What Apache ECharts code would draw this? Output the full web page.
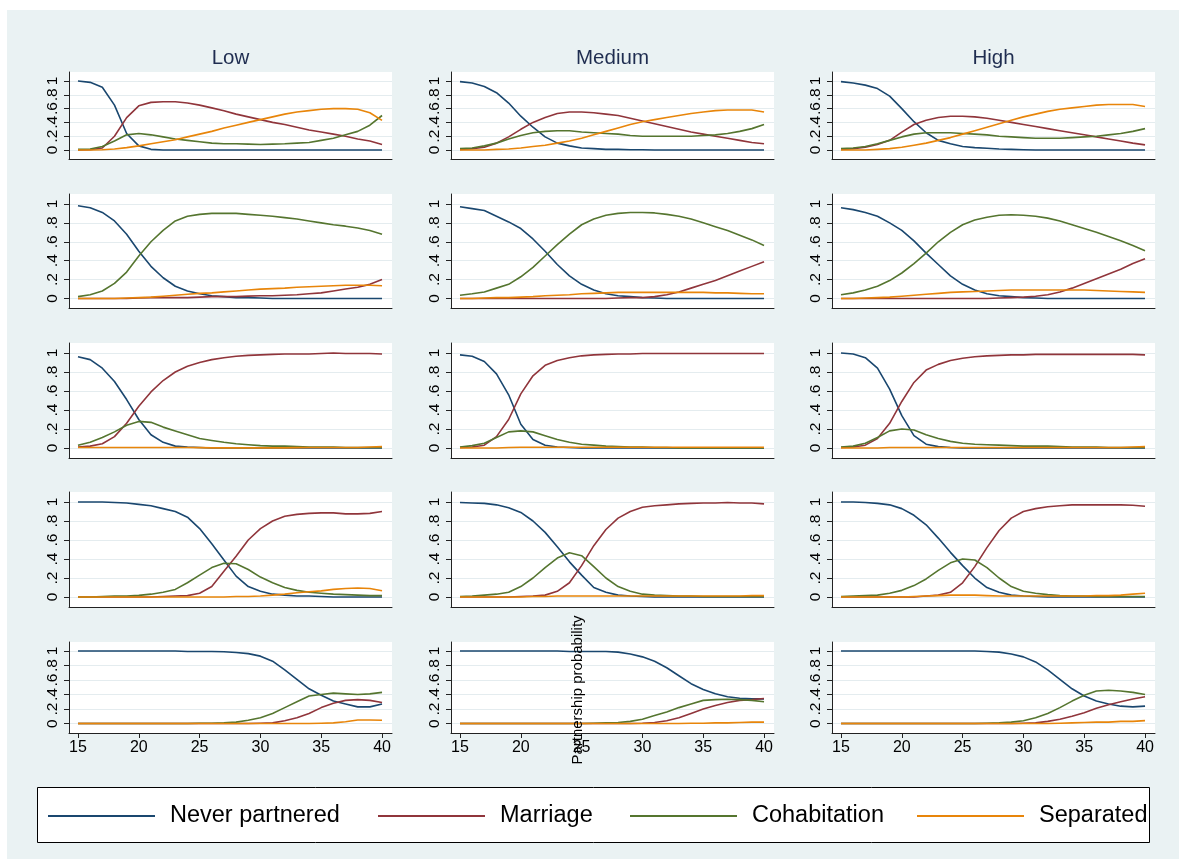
<!DOCTYPE html>
<html><head><meta charset="utf-8">
<script src="https://cdn.jsdelivr.net/npm/echarts@6.0.0/dist/echarts.min.js"></script>
<style>html,body{margin:0;padding:0;background:#fff}#chart{width:1186px;height:866px}</style>
</head><body><div id="chart"></div>
<script>
// ---------------- DATA ----------------
const ages = [15,16,17,18,19,20,21,22,23,24,25,26,27,28,29,30,31,32,33,34,35,36,37,38,39,40];
const colTitles = ['Low', 'Medium', 'High'];
const seriesNames = ['Never partnered', 'Marriage', 'Cohabitation', 'Separated'];
const yTickValues = [0, 0.2, 0.4, 0.6, 0.8, 1];
const xTickValues = [15, 20, 25, 30, 35, 40];
const yAxisTitle = 'Partnership probability';

// Row 1
const r1Low_never = [1.0,0.98,0.91,0.65,0.24,0.06,0.01,0,0,0,0,0,0,0,0,0,0,0,0,0,0,0,0,0,0,0];
const r1Low_marr  = [0,0.005,0.03,0.20,0.47,0.64,0.69,0.70,0.70,0.68,0.65,0.61,0.57,0.52,0.48,0.44,0.40,0.37,0.33,0.29,0.26,0.23,0.20,0.16,0.13,0.08];
const r1Low_cohab = [0.01,0.015,0.05,0.13,0.22,0.24,0.22,0.19,0.16,0.14,0.12,0.10,0.09,0.09,0.085,0.08,0.085,0.09,0.10,0.11,0.14,0.17,0.22,0.27,0.36,0.50];
const r1Low_sep   = [0,0,0.005,0.015,0.035,0.06,0.09,0.12,0.15,0.19,0.23,0.27,0.32,0.36,0.40,0.44,0.48,0.52,0.55,0.57,0.59,0.60,0.60,0.59,0.54,0.43];

const r1Med_never = [0.99,0.97,0.92,0.83,0.68,0.49,0.33,0.19,0.10,0.06,0.03,0.02,0.01,0.01,0.005,0.005,0,0,0,0,0,0,0,0,0,0];
const r1Med_marr  = [0.01,0.02,0.04,0.10,0.19,0.30,0.40,0.47,0.53,0.55,0.55,0.54,0.52,0.50,0.46,0.42,0.38,0.34,0.30,0.26,0.23,0.20,0.17,0.14,0.11,0.09];
const r1Med_cohab = [0.02,0.03,0.06,0.10,0.16,0.21,0.25,0.27,0.28,0.28,0.26,0.25,0.24,0.23,0.21,0.20,0.20,0.20,0.20,0.20,0.21,0.22,0.24,0.27,0.31,0.37];
const r1Med_sep   = [0,0,0,0.01,0.015,0.03,0.05,0.07,0.10,0.13,0.17,0.22,0.27,0.32,0.37,0.41,0.44,0.47,0.50,0.53,0.55,0.57,0.58,0.58,0.58,0.55];

const r1High_never = [0.99,0.97,0.94,0.89,0.78,0.60,0.41,0.25,0.14,0.09,0.05,0.035,0.025,0.015,0.01,0.005,0,0,0,0,0,0,0,0,0,0];
const r1High_marr  = [0.01,0.02,0.04,0.08,0.14,0.26,0.37,0.43,0.47,0.49,0.49,0.48,0.46,0.43,0.40,0.37,0.34,0.31,0.28,0.25,0.22,0.19,0.16,0.13,0.10,0.075];
const r1High_cohab = [0.02,0.03,0.05,0.09,0.14,0.19,0.23,0.25,0.25,0.25,0.24,0.23,0.22,0.20,0.19,0.18,0.17,0.17,0.17,0.18,0.19,0.20,0.22,0.24,0.27,0.31];
const r1High_sep   = [0,0,0,0.01,0.02,0.04,0.07,0.10,0.14,0.18,0.23,0.28,0.33,0.38,0.43,0.48,0.52,0.56,0.59,0.61,0.63,0.65,0.66,0.66,0.66,0.63];

// Row 2
const r2Low_never = [0.98,0.96,0.91,0.82,0.68,0.50,0.34,0.22,0.13,0.08,0.05,0.03,0.02,0.01,0.01,0.005,0,0,0,0,0,0,0,0,0,0];
const r2Low_marr  = [0,0,0,0,0,0.005,0.01,0.01,0.01,0.01,0.015,0.02,0.02,0.02,0.025,0.03,0.03,0.035,0.04,0.05,0.06,0.08,0.10,0.12,0.15,0.20];
const r2Low_cohab = [0.02,0.04,0.08,0.16,0.28,0.45,0.60,0.72,0.82,0.87,0.89,0.90,0.90,0.90,0.89,0.88,0.87,0.855,0.84,0.82,0.80,0.78,0.765,0.745,0.72,0.68];
const r2Low_sep   = [0,0,0,0,0.005,0.01,0.015,0.025,0.035,0.045,0.055,0.06,0.07,0.08,0.09,0.10,0.105,0.11,0.12,0.125,0.13,0.135,0.14,0.14,0.14,0.135];

const r2Med_never = [0.97,0.95,0.93,0.87,0.81,0.74,0.63,0.50,0.36,0.24,0.15,0.09,0.05,0.03,0.02,0.01,0.005,0,0,0,0,0,0,0,0,0];
const r2Med_marr  = [0,0,0,0,0,0,0,0,0,0,0,0,0,0.005,0.01,0.01,0.02,0.04,0.07,0.11,0.15,0.19,0.24,0.29,0.34,0.39];
const r2Med_cohab = [0.035,0.05,0.07,0.11,0.15,0.23,0.33,0.45,0.57,0.68,0.78,0.84,0.88,0.90,0.91,0.91,0.905,0.89,0.87,0.84,0.80,0.76,0.72,0.67,0.62,0.56];
const r2Med_sep   = [0,0,0.005,0.01,0.01,0.015,0.02,0.03,0.035,0.04,0.05,0.055,0.06,0.065,0.065,0.065,0.065,0.065,0.065,0.065,0.065,0.06,0.06,0.055,0.05,0.05];

const r2High_never = [0.96,0.94,0.91,0.87,0.80,0.72,0.61,0.48,0.36,0.24,0.15,0.09,0.05,0.03,0.02,0.01,0.005,0,0,0,0,0,0,0,0,0];
const r2High_marr  = [0,0,0,0,0,0,0,0,0,0,0,0,0,0.005,0.01,0.015,0.025,0.04,0.07,0.11,0.16,0.21,0.26,0.31,0.37,0.42];
const r2High_cohab = [0.04,0.06,0.09,0.13,0.19,0.27,0.37,0.48,0.60,0.70,0.78,0.83,0.86,0.88,0.885,0.88,0.87,0.85,0.82,0.78,0.74,0.70,0.655,0.61,0.56,0.505];
const r2High_sep   = [0,0,0.005,0.01,0.015,0.025,0.035,0.045,0.055,0.065,0.07,0.075,0.08,0.085,0.09,0.09,0.09,0.09,0.09,0.09,0.09,0.085,0.08,0.075,0.07,0.065];

// Row 3
const r3Low_never = [0.96,0.93,0.84,0.70,0.51,0.30,0.14,0.06,0.02,0.01,0.005,0,0,0,0,0,0,0,0,0,0,0,0,0,0,0];
const r3Low_marr  = [0.01,0.02,0.045,0.12,0.26,0.44,0.59,0.71,0.80,0.86,0.90,0.93,0.95,0.965,0.975,0.98,0.985,0.99,0.99,0.99,0.995,1.0,0.995,0.995,0.995,0.99];
const r3Low_cohab = [0.03,0.06,0.11,0.17,0.24,0.28,0.27,0.22,0.18,0.14,0.10,0.08,0.06,0.045,0.035,0.025,0.02,0.02,0.015,0.01,0.01,0.01,0.005,0.005,0.005,0.005];
const r3Low_sep   = [0.005,0.005,0.005,0.005,0.005,0.005,0.005,0.005,0.005,0.005,0.004,0.002,0.002,0.002,0.002,0.002,0.002,0.002,0.004,0.005,0.005,0.005,0.005,0.005,0.01,0.015];

const r3Med_never = [0.98,0.965,0.91,0.78,0.56,0.25,0.09,0.03,0.01,0.005,0,0,0,0,0,0,0,0,0,0,0,0,0,0,0,0];
const r3Med_marr  = [0.005,0.01,0.03,0.12,0.30,0.57,0.76,0.87,0.92,0.95,0.97,0.98,0.985,0.99,0.99,0.995,0.995,0.995,0.995,0.995,0.995,0.995,0.995,0.995,0.995,0.995];
const r3Med_cohab = [0.01,0.025,0.05,0.11,0.17,0.18,0.17,0.13,0.09,0.06,0.04,0.03,0.02,0.015,0.01,0.01,0.005,0.005,0,0,0,0,0,0,0,0];
const r3Med_sep   = [0,0,0,0,0.005,0.008,0.008,0.008,0.008,0.008,0.008,0.008,0.008,0.008,0.008,0.008,0.008,0.008,0.008,0.008,0.008,0.008,0.008,0.008,0.008,0.008];

const r3High_never = [1.0,0.99,0.95,0.84,0.62,0.34,0.13,0.04,0.015,0.005,0,0,0,0,0,0,0,0,0,0,0,0,0,0,0,0];
const r3High_marr  = [0.005,0.01,0.03,0.10,0.26,0.49,0.69,0.82,0.88,0.92,0.945,0.96,0.97,0.975,0.98,0.98,0.985,0.985,0.985,0.985,0.985,0.985,0.985,0.985,0.985,0.98];
const r3High_cohab = [0.01,0.02,0.05,0.11,0.18,0.20,0.19,0.14,0.10,0.07,0.05,0.04,0.035,0.03,0.025,0.02,0.02,0.02,0.015,0.01,0.01,0.01,0.005,0.005,0.005,0.005];
const r3High_sep   = [0,0,0,0,0.005,0.005,0.005,0.005,0.005,0.005,0.005,0.005,0.005,0.005,0.005,0.005,0.005,0.005,0.005,0.005,0.005,0.005,0.005,0.005,0.01,0.015];

// Row 4
const r4Low_never = [1.0,1.0,1.0,0.995,0.99,0.975,0.96,0.93,0.90,0.84,0.72,0.56,0.39,0.22,0.11,0.06,0.03,0.02,0.01,0.01,0.005,0,0,0,0,0];
const r4Low_marr  = [0,0,0,0,0,0,0,0.005,0.01,0.015,0.04,0.11,0.27,0.43,0.60,0.72,0.80,0.85,0.87,0.88,0.885,0.885,0.875,0.875,0.88,0.90];
const r4Low_cohab = [0,0,0.005,0.01,0.01,0.017,0.03,0.05,0.08,0.15,0.23,0.31,0.355,0.35,0.29,0.21,0.15,0.10,0.07,0.05,0.04,0.03,0.025,0.02,0.015,0.015];
const r4Low_sep   = [0,0,0,0,0,0,0,0,0,0,0,0,0,0.005,0.005,0.01,0.02,0.03,0.045,0.055,0.065,0.08,0.09,0.095,0.09,0.066];

const r4Med_never = [0.995,0.99,0.985,0.97,0.94,0.89,0.80,0.68,0.53,0.37,0.23,0.10,0.05,0.02,0.01,0.005,0,0,0,0,0,0,0,0,0,0];
const r4Med_marr  = [0,0,0,0,0,0.005,0.01,0.02,0.06,0.15,0.33,0.54,0.71,0.83,0.90,0.945,0.96,0.97,0.98,0.985,0.99,0.99,0.995,0.99,0.99,0.98];
const r4Med_cohab = [0.005,0.01,0.02,0.03,0.05,0.11,0.20,0.31,0.41,0.465,0.435,0.32,0.20,0.11,0.06,0.03,0.02,0.015,0.01,0.01,0.005,0.005,0.005,0.005,0.005,0.005];
const r4Med_sep   = [0,0,0,0,0,0,0.005,0.005,0.01,0.01,0.01,0.01,0.01,0.01,0.01,0.01,0.01,0.01,0.01,0.01,0.01,0.01,0.01,0.01,0.015,0.015];

const r4High_never = [1.0,1.0,0.995,0.985,0.97,0.93,0.86,0.76,0.62,0.47,0.33,0.20,0.10,0.05,0.02,0.01,0.005,0,0,0,0,0,0,0,0,0];
const r4High_marr  = [0,0,0,0,0,0,0,0.01,0.02,0.05,0.15,0.32,0.52,0.70,0.83,0.90,0.93,0.95,0.96,0.97,0.97,0.97,0.97,0.97,0.965,0.955];
const r4High_cohab = [0.005,0.01,0.015,0.02,0.04,0.07,0.12,0.19,0.28,0.36,0.40,0.39,0.31,0.20,0.11,0.06,0.04,0.025,0.015,0.01,0.01,0.005,0.005,0.005,0.005,0.005];
const r4High_sep   = [0,0,0,0,0,0,0.005,0.01,0.015,0.02,0.02,0.02,0.015,0.01,0.01,0.01,0.01,0.01,0.01,0.01,0.01,0.015,0.015,0.02,0.03,0.04];

// Row 5
const r5Low_never = [1,1,1,1,1,1,1,1,1,0.995,0.995,0.995,0.99,0.98,0.965,0.93,0.86,0.74,0.61,0.48,0.39,0.31,0.27,0.23,0.23,0.27];
const r5Low_marr  = [0,0,0,0,0,0,0,0,0,0,0,0,0,0,0,0.005,0.01,0.04,0.08,0.14,0.22,0.28,0.32,0.33,0.32,0.29];
const r5Low_cohab = [0,0,0,0,0,0,0,0,0,0,0.005,0.005,0.01,0.02,0.045,0.08,0.14,0.22,0.30,0.38,0.40,0.42,0.41,0.40,0.41,0.43];
const r5Low_sep   = [0,0,0,0,0,0,0,0,0,0,0,0,0,0,0,0,0,0,0,0,0.005,0.01,0.025,0.05,0.05,0.045];

const r5Med_never = [1,1,1,1,1,1,1,1,1,0.995,0.995,0.995,0.995,0.985,0.96,0.92,0.86,0.77,0.66,0.55,0.47,0.41,0.37,0.35,0.34,0.34];
const r5Med_marr  = [0,0,0,0,0,0,0,0,0,0,0,0,0,0,0,0.005,0.015,0.04,0.08,0.14,0.20,0.25,0.29,0.32,0.33,0.345];
const r5Med_cohab = [0,0,0,0,0,0,0,0,0,0,0,0.005,0.01,0.015,0.03,0.06,0.11,0.16,0.22,0.27,0.32,0.33,0.335,0.33,0.32,0.30];
const r5Med_sep   = [0,0,0,0,0,0,0,0,0,0,0,0,0,0,0,0,0,0,0,0.005,0.005,0.01,0.01,0.015,0.02,0.02];

const r5High_never = [1,1,1,1,1,1,1,1,1,1,1,1,0.995,0.985,0.96,0.92,0.85,0.74,0.61,0.48,0.38,0.31,0.27,0.24,0.23,0.24];
const r5High_marr  = [0,0,0,0,0,0,0,0,0,0,0,0,0,0,0,0.005,0.01,0.03,0.06,0.10,0.15,0.21,0.26,0.30,0.34,0.37];
const r5High_cohab = [0,0,0,0,0,0,0,0,0,0,0,0,0.005,0.01,0.02,0.04,0.08,0.14,0.22,0.31,0.39,0.45,0.46,0.45,0.43,0.40];
const r5High_sep   = [0,0,0,0,0,0,0,0,0,0,0,0,0,0,0,0,0,0,0.005,0.01,0.015,0.02,0.02,0.03,0.03,0.04];

// panels[row][col] = [never, marriage, cohabitation, separated]
const panels = [
  [[r1Low_never,r1Low_marr,r1Low_cohab,r1Low_sep],[r1Med_never,r1Med_marr,r1Med_cohab,r1Med_sep],[r1High_never,r1High_marr,r1High_cohab,r1High_sep]],
  [[r2Low_never,r2Low_marr,r2Low_cohab,r2Low_sep],[r2Med_never,r2Med_marr,r2Med_cohab,r2Med_sep],[r2High_never,r2High_marr,r2High_cohab,r2High_sep]],
  [[r3Low_never,r3Low_marr,r3Low_cohab,r3Low_sep],[r3Med_never,r3Med_marr,r3Med_cohab,r3Med_sep],[r3High_never,r3High_marr,r3High_cohab,r3High_sep]],
  [[r4Low_never,r4Low_marr,r4Low_cohab,r4Low_sep],[r4Med_never,r4Med_marr,r4Med_cohab,r4Med_sep],[r4High_never,r4High_marr,r4High_cohab,r4High_sep]],
  [[r5Low_never,r5Low_marr,r5Low_cohab,r5Low_sep],[r5Med_never,r5Med_marr,r5Med_cohab,r5Med_sep],[r5High_never,r5High_marr,r5High_cohab,r5High_sep]]
];

// ---------------- LAYOUT / STYLE ----------------
const FONT = '"Liberation Sans", Arial, Helvetica, sans-serif';
const seriesColors = ['#1a476f', '#90353b', '#55752f', '#e8850a'];
const colLeft = [69, 451, 832];
const plotWidth = 323;
const rowTop = [72, 194, 343, 492, 642];
const rowHeight = [87, 114, 115, 115, 91];
const rowYMin = [-0.13, -0.1, -0.105, -0.105, -0.13];
const rowYMax = [1.13, 1.105, 1.105, 1.105, 1.125];
const xMin = 14.26, xMax = 40.82;
const axisColor = '#222';
const gridLineColor = '#e4ecef';

const grids = [], xAxes = [], yAxes = [], series = [];
panels.forEach((row, r) => {
  row.forEach((panel, c) => {
    const idx = grids.length;
    grids.push({
      left: colLeft[c], top: rowTop[r], width: plotWidth, height: rowHeight[r],
      show: true, backgroundColor: '#ffffff', borderWidth: 0,
      containLabel: false, outerBoundsMode: 'none'
    });
    const bottomRow = r === panels.length - 1;
    xAxes.push({
      type: 'value', gridIndex: idx, min: xMin, max: xMax,
      axisLine: { show: true, onZero: false, lineStyle: { color: axisColor, width: 1 } },
      axisTick: { show: bottomRow, customValues: xTickValues, length: 5, lineStyle: { color: axisColor, width: 1 } },
      axisLabel: { show: bottomRow, customValues: xTickValues, fontSize: 16, color: '#000', fontFamily: FONT, margin: 7 },
      splitLine: { show: false }
    });
    yAxes.push({
      type: 'value', gridIndex: idx, min: rowYMin[r], max: rowYMax[r],
      axisLine: { show: true, onZero: false, lineStyle: { color: axisColor, width: 1 } },
      axisTick: { show: true, customValues: yTickValues, length: 5, lineStyle: { color: axisColor, width: 1 } },
      axisLabel: {
        show: true, customValues: yTickValues, rotate: 90, fontSize: 15.5, color: '#000', fontFamily: FONT, margin: 8,
        formatter: v => (Math.abs(v) < 1e-9 ? '0' : Math.abs(v - 1) < 1e-9 ? '1' : String(+v.toFixed(1)).replace(/^0/, ''))
      },
      splitLine: { show: true, lineStyle: { color: gridLineColor, width: 1 } }
    });
    panel.forEach((vals, s) => {
      if (vals.length !== ages.length) throw new Error('bad length r' + r + ' c' + c + ' s' + s + ': ' + vals.length);
      series.push({
        type: 'line', name: seriesNames[s], xAxisIndex: idx, yAxisIndex: idx,
        data: ages.map((a, k) => [a, vals[k]]),
        symbol: 'none', showSymbol: false, smooth: false, silent: true,
        lineStyle: { color: seriesColors[s], width: 1.6 },
        itemStyle: { color: seriesColors[s] },
        z: 3 + s
      });
    });
  });
});

const legendLeft = [48, 378, 630, 917];
const legends = seriesNames.map((n, i) => ({
  show: true, data: [n], left: legendLeft[i], top: 804, padding: 0,
  icon: 'rect', itemWidth: 107, itemHeight: 2, selectedMode: false,
  textStyle: { fontSize: 23.5, color: '#000', fontFamily: FONT, padding: [0, 0, 0, 10] }
}));

const graphics = [
  { type: 'rect', z: -100, shape: { x: 7, y: 10, width: 1172, height: 849 }, style: { fill: '#eaf2f3' } },
  { type: 'rect', z: -50, shape: { x: 37.5, y: 787.5, width: 1112, height: 55 }, style: { fill: '#ffffff', stroke: '#000', lineWidth: 1 } },
  { type: 'text', z: 10, x: 578, y: 690, rotation: Math.PI / 2,
    style: { text: yAxisTitle, fontSize: 15, fontFamily: FONT, fill: '#000', align: 'center', verticalAlign: 'middle' } }
];
colTitles.forEach((t, c) => {
  graphics.push({ type: 'text', z: 10, x: colLeft[c] + plotWidth / 2, y: 58,
    style: { text: t, fontSize: 20.5, fontFamily: FONT, fill: '#1f2d50', align: 'center', verticalAlign: 'middle' } });
});

const chart = echarts.init(document.getElementById('chart'), null, { renderer: 'canvas' });
chart.setOption({
  animation: false,
  backgroundColor: '#ffffff',
  grid: grids, xAxis: xAxes, yAxis: yAxes, series: series,
  legend: legends,
  graphic: { elements: graphics }
});
</script>
</body></html>
